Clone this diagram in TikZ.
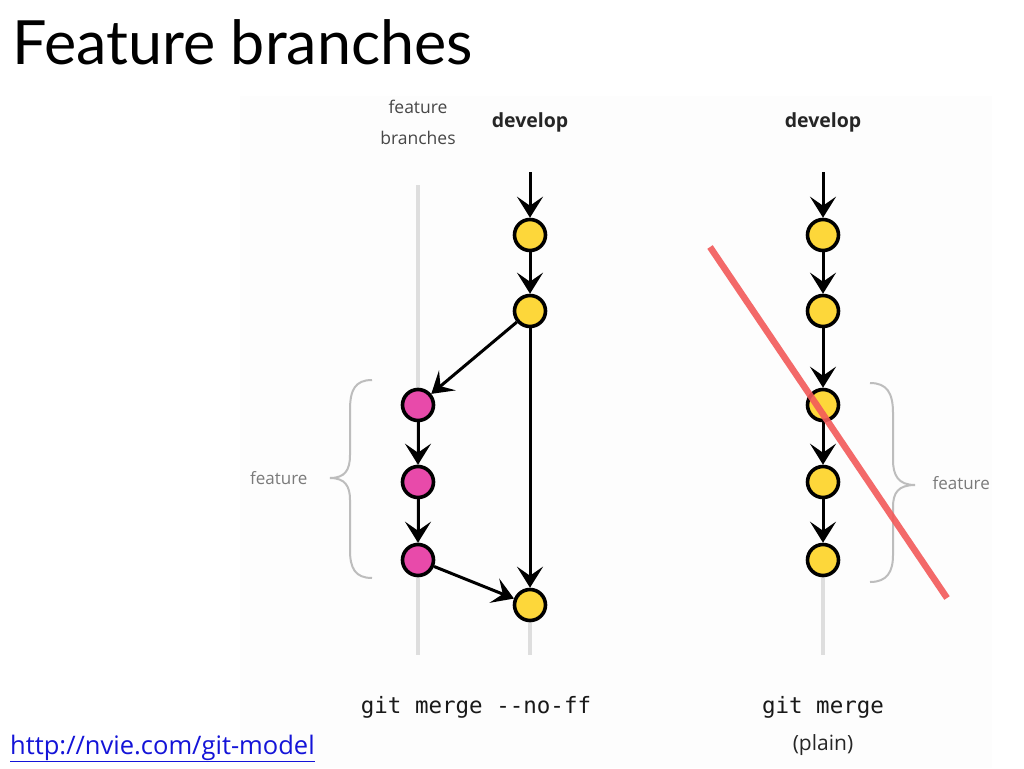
\documentclass[tikz,border=0pt]{standalone}
\usepackage{fontspec}
\setmainfont{Open Sans}
\newfontfamily\titlefont{Lato}
\newfontfamily\monofont{DejaVu Sans Mono}
\usetikzlibrary{arrows.meta}
\definecolor{commitY}{HTML}{FDD73A}
\definecolor{commitP}{HTML}{E84AAA}
\definecolor{trunk}{HTML}{DEDEDE}
\definecolor{bracec}{HTML}{BDBDBD}
\definecolor{labelc}{HTML}{7A7A7A}
\definecolor{strike}{HTML}{F25A5A}
\definecolor{linkc}{HTML}{1414D8}
\definecolor{panel}{HTML}{FDFDFD}
\tikzset{
  commit/.style={circle,draw=black,line width=3.6pt,minimum size=31pt,inner sep=0pt},
  ycommit/.style={commit,fill=commitY},
  pcommit/.style={commit,fill=commitP},
  flow/.style={line width=3pt,-{Stealth[length=21pt,width=26pt,inset=9pt]}},
  trunkline/.style={trunk,line width=4pt},
  bracestyle/.style={bracec,line width=2pt},
  sidelabel/.style={labelc,font=\fontsize{17}{20}\selectfont},
  headlabel/.style={font=\fontsize{19.5}{22}\selectfont\bfseries,text=black!85},
  gitlabel/.style={font=\monofont\fontsize{22.5}{26}\selectfont,text=black!90},
}
\begin{document}
\begin{tikzpicture}[x=1pt,y=-1pt]
\useasboundingbox (0,0) rectangle (1024,768);
\fill[white] (0,0) rectangle (1024,768);
\fill[panel] (240,96) rectangle (992,768);

% title and link
\node[anchor=base west,inner sep=0pt,font=\titlefont\fontsize{61}{66}\selectfont] (title) at (12,64) {Feature branches};
\node[anchor=base west,inner sep=0pt,text=linkc,font=\fontsize{25.5}{28}\selectfont] (link) at (10,754) {\underline{http://nvie.com/git-model}};

% gray trunks
\coordinate (fbtop) at (418,185);
\coordinate (fbbot) at (418,655);
\draw[trunkline] (fbtop) -- (fbbot);
\coordinate (dltop) at (530,600);
\coordinate (dlbot) at (530,655);
\draw[trunkline] (dltop) -- (dlbot);
\coordinate (drtop) at (823,560);
\coordinate (drbot) at (823,655);
\draw[trunkline] (drtop) -- (drbot);

% headings
\node[sidelabel,text=black!72,align=center,font=\fontsize{17.5}{31}\selectfont] (fbhead) at (418,122) {feature\\branches};
\node[headlabel] (dlhead) at (530,122) {develop};
\node[headlabel] (drhead) at (823,122) {develop};

% left develop
\coordinate (dlstart) at (530,172);
\node[ycommit] (d1) at (530,235) {};
\node[ycommit] (d2) at (530,311) {};
\node[ycommit] (d3) at (530,605) {};
% feature commits
\node[pcommit] (f1) at (418,405) {};
\node[pcommit] (f2) at (418,482) {};
\node[pcommit] (f3) at (418,560) {};

\draw[flow] (dlstart) -- (d1);
\draw[flow] (d1) -- (d2);
\draw[flow] (d2) -- (d3);
\draw[flow] (d2) -- (f1);
\draw[flow] (f1) -- (f2);
\draw[flow] (f2) -- (f3);
\draw[flow] (f3) -- (d3);

% right develop
\coordinate (drstart) at (823,172);
\node[ycommit] (r1) at (823,235) {};
\node[ycommit] (r2) at (823,311) {};
\node[ycommit] (r3) at (823,405) {};
\node[ycommit] (r4) at (823,482) {};
\node[ycommit] (r5) at (823,560) {};
\draw[flow] (drstart) -- (r1);
\draw[flow] (r1) -- (r2);
\draw[flow] (r2) -- (r3);
\draw[flow] (r3) -- (r4);
\draw[flow] (r4) -- (r5);

% braces
\draw[bracestyle] (372,380) .. controls (355,380) and (350,390) .. (350,410) -- (350,455)
  .. controls (350,470) and (345,478) .. (330,478)
  .. controls (345,478) and (350,486) .. (350,500) -- (350,550)
  .. controls (350,568) and (355,578) .. (372,578);
\node[sidelabel,anchor=east] (lfeat) at (311,478) {feature};

\draw[bracestyle] (870,383) .. controls (887,383) and (893,393) .. (893,413) -- (893,460)
  .. controls (893,475) and (898,485) .. (915,485)
  .. controls (898,485) and (893,493) .. (893,507) -- (893,555)
  .. controls (893,572) and (887,582) .. (870,582);
\node[sidelabel,anchor=west] (rfeat) at (929,483) {feature};

% strike line
\coordinate (s1) at (710,247);
\coordinate (s2) at (947,598);
\draw[strike,line width=6.5pt,opacity=0.9] (s1) -- (s2);

% captions
\node[gitlabel] (lcap) at (476,707) {git merge -{}-no-ff};
\node[gitlabel] (rcap) at (823,707) {git merge};
\node[font=\fontsize{21}{24}\selectfont,text=black!85] (rplain) at (823,745) {(plain)};
\end{tikzpicture}
\end{document}
